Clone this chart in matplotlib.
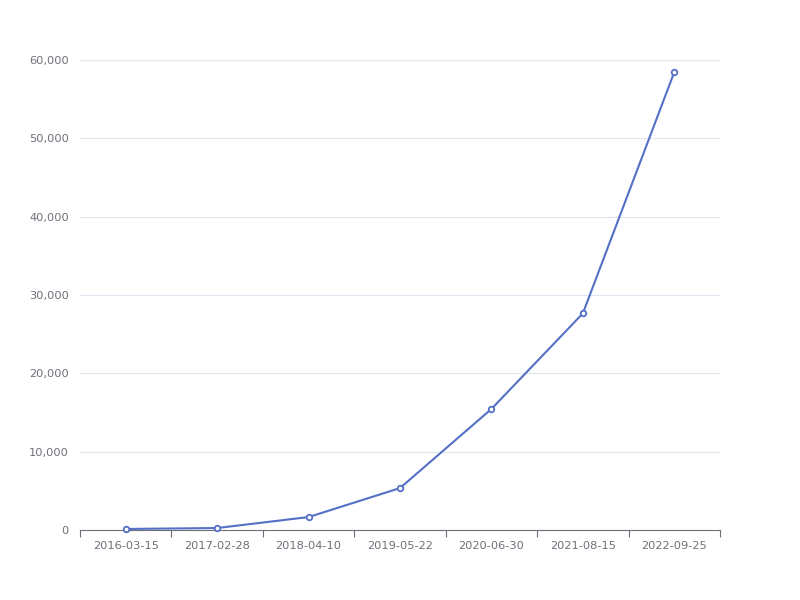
import matplotlib
matplotlib.use("Agg")
import matplotlib.pyplot as plt
from matplotlib.ticker import FuncFormatter

dates = ['2016-03-15', '2017-02-28', '2018-04-10', '2019-05-22',
         '2020-06-30', '2021-08-15', '2022-09-25']
values = [130, 250, 1650, 5350, 15450, 27650, 58450]

fig = plt.figure(figsize=(8, 6), dpi=100)
ax = fig.add_axes([0.1, 0.1167, 0.8, 0.7833])

x = list(range(len(dates)))
ax.plot(x, values, color='#5470C6', linewidth=1.5, marker='o', markersize=4,
        markerfacecolor='white', markeredgecolor='#5470C6', markeredgewidth=1.3,
        zorder=3, clip_on=False)

ax.set_xlim(-0.5, len(dates) - 0.5)
ax.set_ylim(0, 60000)
ax.set_yticks(range(0, 60001, 10000))
ax.yaxis.set_major_formatter(FuncFormatter(lambda v, p: '{:,}'.format(int(v))))
ax.grid(axis='y', color='#E0E6F1', linewidth=0.8)
ax.set_axisbelow(True)

ax.set_xticks(x)
ax.set_xticklabels(dates)
ax.set_xticks([i - 0.5 for i in range(len(dates) + 1)], minor=True)
ax.tick_params(axis='x', which='major', length=0, pad=8, labelsize=8.2, labelcolor='#6E7079')
ax.tick_params(axis='x', which='minor', length=5, color='#6E7079', width=0.8)
ax.tick_params(axis='y', length=0, pad=8, labelsize=8.2, labelcolor='#6E7079')

for s in ['top', 'right', 'left']:
    ax.spines[s].set_visible(False)
ax.spines['bottom'].set_color('#6E7079')
ax.spines['bottom'].set_linewidth(0.8)

fig.savefig('out.png', dpi=100)
